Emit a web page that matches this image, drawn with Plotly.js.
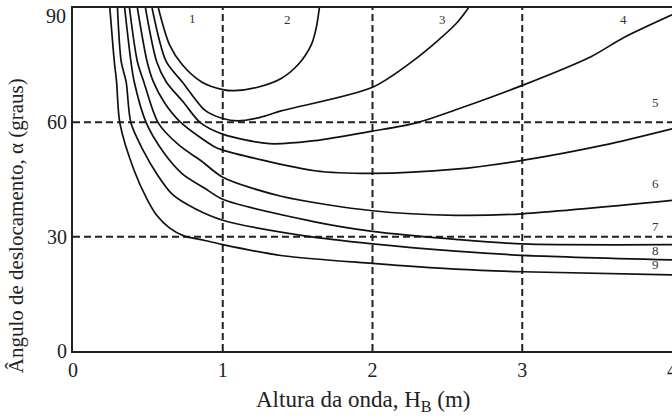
<!DOCTYPE html>
<html><head><meta charset="utf-8">
<script src="https://cdn.plot.ly/plotly-3.0.1.min.js"></script>
<style>html,body{margin:0;padding:0;overflow:hidden;background:#fff}</style>
</head><body><div id="chart" style="width:672px;height:420px"></div>
<script>
// Curve data (x: wave height H_B in m, y: angle in degrees)
const xA = [0.570,0.644,0.730,0.859,1.0,1.076,1.233,1.390,1.502,1.592,1.625,1.645];
const yA = [90,80.4,75.1,70.6,68.6,68.3,69.2,71.5,75.1,80.4,84.9,90];
const xB = [0.528,0.623,0.730,0.880,1.0,1.10,1.25,1.390,2.0,2.286,2.556,2.64];
const yB = [90,75.9,70.6,63.2,61.0,60.4,61.3,63.0,69.2,76.6,85.8,90];
const xC = [0.484,0.559,0.623,0.739,0.848,1.0,1.311,1.614,2.0,2.286,2.556,3.0,3.462,3.676,4.0];
const yC = [90,75.9,70.6,65.2,60,56.9,54.4,55.2,57.7,59.8,63.3,69.7,77.3,82.2,88.2];
const xD = [0.430,0.495,0.537,0.610,0.719,0.944,1.0,1.614,2.0,2.556,3.0,3.543,4.0];
const yD = [90,75.9,70.6,65.2,60,53.6,52.7,47.3,46.6,47.7,50.0,54.0,58.3];
const xE = [0.377,0.430,0.473,0.570,0.708,0.859,1.0,1.390,2.0,2.556,3.0,4.0];
const yE = [90,75.9,70.6,59.8,54.0,49.8,45.6,40.6,36.8,35.6,36.0,39.5];
const xF = [0.345,0.387,0.409,0.490,0.602,0.730,0.880,1.0,1.614,2.0,2.556,3.0,4.0];
const yF = [90,75.9,70.6,59.8,52.3,46.5,42.7,39.8,33.9,31.4,29.3,28.1,27.9];
const xG = [0.297,0.322,0.355,0.387,0.473,0.559,0.666,0.816,1.0,1.547,2.0,2.556,3.0,4.0];
const yG = [90,75.9,70.6,59.8,52.3,46.5,41.0,37.3,34.3,30.2,28.1,26.2,25.1,23.9];
const xH = [0.246,0.276,0.291,0.313,0.409,0.495,0.559,0.644,0.740,0.880,1.0,1.4,2.0,2.556,3.0,4.0];
const yH = [90,75.9,70.6,59.8,47.3,39.8,35.6,32.3,30.2,29.0,27.9,25.0,23.0,21.5,20.8,20.0];

const curveLabels = ['1','2','3','4','5','6','7','8','9'];
const labelX = [0.796,1.432,2.469,3.679,3.887,3.887,3.887,3.887,3.887];
const labelY = [87.2,87.0,87.0,87.0,65.2,44.0,32.8,26.5,22.7];

const xTicks = [0,1,2,3,4];
const yTicks = [0,30,60];
const yTopTick = 90;
const gridX = [1,2,3];
const gridY = [30,60];

const xTitle = 'Altura da onda, H<sub>B</sub> (m)';
const yTitle = 'Ângulo de deslocamento, α (graus)';

const serif = 'Liberation Serif';

const series = [[xA,yA],[xB,yB],[xC,yC],[xD,yD],[xE,yE],[xF,yF],[xG,yG],[xH,yH]];
const traces = series.map(([x,y]) => ({
  x: x, y: y, type: 'scatter', mode: 'lines',
  line: {color: '#111', width: 1.7, shape: 'spline', smoothing: 0.8},
  hoverinfo: 'skip'
}));

const dash = {color: '#222', width: 2, dash: '7px,4px'};
const shapes = [];
gridX.forEach(v => shapes.push({type:'line', xref:'x', yref:'paper', x0:v, x1:v, y0:0, y1:1, line:dash, layer:'below'}));
gridY.forEach(v => shapes.push({type:'line', xref:'paper', yref:'y', x0:0, x1:1, y0:v, y1:v, line:dash, layer:'below'}));

const annotations = curveLabels.map((t,i) => ({
  x: labelX[i], y: labelY[i], xref:'x', yref:'y', text: t, showarrow: false,
  font: {size: 13, color: '#333', family: serif}
}));
// top tick label of the y axis, drawn just below the frame as in the reference
annotations.push({
  x: 0, y: yTopTick, xref: 'paper', yref: 'y', text: String(yTopTick), showarrow: false,
  xanchor: 'right', yanchor: 'middle', xshift: -5, yshift: -8,
  font: {size: 20, color: '#222', family: serif}
});
// axis titles, placed where the reference has them
annotations.push({
  x: -0.095, y: 0.364, xref: 'paper', yref: 'paper', text: yTitle, showarrow: false,
  textangle: -90, xanchor: 'center', yanchor: 'middle',
  font: {size: 21, color: '#222', family: serif}
});
annotations.push({
  x: 0.485, y: -0.146, xref: 'paper', yref: 'paper', text: xTitle, showarrow: false,
  xanchor: 'center', yanchor: 'middle',
  font: {size: 23, color: '#222', family: serif}
});

const layout = {
  width: 672, height: 420,
  margin: {l: 73, r: 0, t: 8, b: 69, pad: 0},
  paper_bgcolor: '#fff', plot_bgcolor: '#fff',
  showlegend: false,
  font: {family: serif, color: '#222', size: 20},
  xaxis: {
    range: [0, 4], tickvals: xTicks, ticks: '', showgrid: false, zeroline: false,
    showline: true, linecolor: '#222', linewidth: 2, mirror: true,
    tickfont: {size: 20, family: serif}, automargin: false, ticklabeloverflow: 'allow'
  },
  yaxis: {
    range: [0, 90], tickvals: yTicks, ticks: '', showgrid: false, zeroline: false,
    showline: true, linecolor: '#222', linewidth: 2,
    tickfont: {size: 20, family: serif}, automargin: false
  },
  shapes: shapes,
  annotations: annotations
};

Plotly.newPlot('chart', traces, layout, {staticPlot: true, displayModeBar: false});
</script></body></html>
